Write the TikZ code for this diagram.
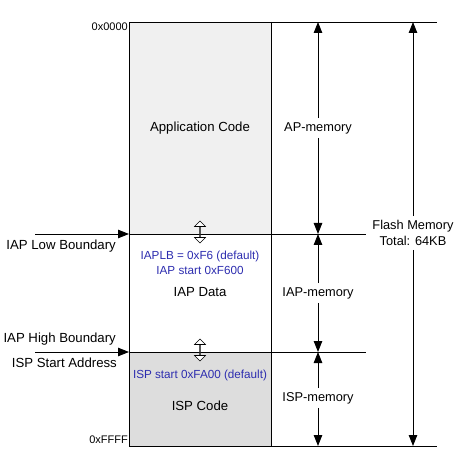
\documentclass[tikz,border=0pt]{standalone}
\usepackage{fontspec}
\setmainfont{Liberation Sans}
\usepackage{tikz}
\usetikzlibrary{arrows.meta}
\usetikzlibrary{shapes.arrows}

\definecolor{noteblue}{RGB}{45,45,175}

\begin{document}
\begin{tikzpicture}[x=1pt,y=-1pt,
    dimarrow/.style={line width=0.9pt, -{Triangle[length=11pt,width=8.5pt]}},
    bound/.style={line width=0.8pt},
    lbl/.style={font=\fontsize{13.2}{15}\selectfont, inner sep=0pt},
    dimlbl/.style={font=\fontsize{12.8}{16}\selectfont, inner sep=4pt, align=center},
    note/.style={font=\fontsize{11.7}{13}\selectfont, text=noteblue, inner sep=0pt},
    addr/.style={font=\fontsize{11}{12}\selectfont, inner sep=0pt, anchor=east},
    shiftmark/.style={double arrow, rotate=90, draw, fill=white, line width=0.6pt,
      minimum height=22pt, minimum width=11pt, double arrow head extend=3.5pt, inner sep=0pt}]
      \useasboundingbox (0,0) rectangle (466,457);

      % region corners and boundary lines
      \coordinate (topL) at (129,22);
      \coordinate (topR) at (437,22);
      \coordinate (lowL) at (129,234);
      \coordinate (lowR) at (366,234);
      \coordinate (highL) at (129,352);
      \coordinate (highR) at (366,352);
      \coordinate (botL) at (129,446);
      \coordinate (botR) at (437,446);
      \coordinate (lowIn) at (35,234);
      \coordinate (highIn) at (35,352);

      % fill the code areas
      \fill[gray!12] (topL) rectangle (271,234);
      \fill[gray!27] (highL) rectangle (271,446);

      % draw the memory block
      \draw[bound] (topL) -- (topR);
      \draw[bound] (lowL) -- (lowR);
      \draw[bound] (highL) -- (highR);
      \draw[bound] (botL) -- (botR);
      \draw[bound] (topL) -- (botL);
      \draw[bound] (271,22) -- (271,446);

      % boundary pointers
      \draw[dimarrow] (lowIn) -- (lowL);
      \draw[dimarrow] (highIn) -- (highL);
      \node[shiftmark] (lowshift) at (200,232) {};
      \node[shiftmark] (highshift) at (200,350) {};

      % draw labels
      \node[addr] (start) at (128,27) {0x0000};
      \node[addr] (end) at (128,440) {0xFFFF};
      \node[lbl] (appcode) at (200,128) {Application Code};
      \node[lbl] (iapdata) at (200,292) {IAP Data};
      \node[lbl] (ispcode) at (200,406) {ISP Code};
      \node[note] (iaplb) at (200,256) {IAPLB = 0xF6 (default)};
      \node[note] (iapstart) at (200,270) {IAP start 0xF600};
      \node[note] (ispstart) at (200,375) {ISP start 0xFA00 (default)};
      \node[lbl, anchor=east] (lowlbl) at (116,246) {IAP Low Boundary};
      \node[lbl, anchor=east] (highlbl) at (116,339) {IAP High Boundary};
      \node[lbl, anchor=east] (isplbl) at (117,363) {ISP Start Address};

      % draw size arrows
      \node[dimlbl] (apmem) at (318,128) {AP-memory};
      \node[dimlbl] (iapmem) at (318,293) {IAP-memory};
      \node[dimlbl] (ispmem) at (318,398) {ISP-memory};
      \node[dimlbl] (flash) at (413,233) {Flash Memory\\Total: 64KB};
      \draw[dimarrow] (apmem) -- (318,22);
      \draw[dimarrow] (apmem) -- (318,234);
      \draw[dimarrow] (iapmem) -- (318,234);
      \draw[dimarrow] (iapmem) -- (318,352);
      \draw[dimarrow] (ispmem) -- (318,352);
      \draw[dimarrow] (ispmem) -- (318,446);
      \draw[dimarrow] (flash) -- (413,22);
      \draw[dimarrow] (flash) -- (413,446);
    \end{tikzpicture}
\end{document}
